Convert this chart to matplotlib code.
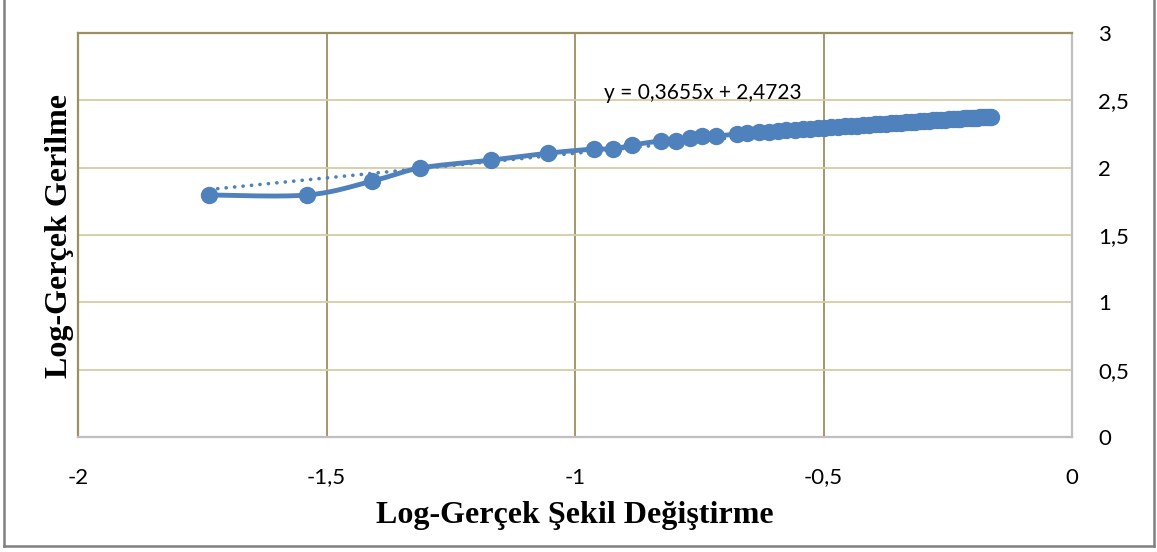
import numpy as np
import matplotlib.pyplot as plt
from matplotlib.lines import Line2D

# log true strain / log true stress
log_strain = [-1.736, -1.539, -1.408, -1.312, -1.169, -1.054, -0.962, -0.924,
              -0.885, -0.827, -0.797, -0.769, -0.745, -0.716, -0.674, -0.654,
              -0.630, -0.610, -0.592, -0.575, -0.558, -0.542, -0.527, -0.512,
              -0.498, -0.484, -0.470, -0.457, -0.444, -0.432, -0.420, -0.408,
              -0.397, -0.386, -0.375, -0.364, -0.354, -0.344, -0.334, -0.324,
              -0.315, -0.306, -0.297, -0.288, -0.279, -0.271, -0.263, -0.255,
              -0.247, -0.239, -0.232, -0.225, -0.218, -0.211, -0.204, -0.198,
              -0.192, -0.186, -0.180, -0.174, -0.168, -0.162]
log_stress = [1.797, 1.797, 1.900, 1.997, 2.056, 2.108, 2.138, 2.138,
              2.168, 2.198, 2.198, 2.218, 2.232, 2.235, 2.250, 2.255,
              2.262, 2.267, 2.272, 2.276, 2.281, 2.285, 2.289, 2.293,
              2.296, 2.300, 2.303, 2.307, 2.310, 2.313, 2.316, 2.319,
              2.322, 2.325, 2.327, 2.330, 2.333, 2.335, 2.338, 2.340,
              2.342, 2.345, 2.347, 2.349, 2.351, 2.353, 2.355, 2.357,
              2.359, 2.361, 2.363, 2.364, 2.366, 2.368, 2.369, 2.371,
              2.372, 2.374, 2.375, 2.376, 2.377, 2.378]

slope = 0.3655
intercept = 2.4723

x_ticks = [-2, -1.5, -1, -0.5, 0]
x_tick_labels = ['-2', '-1,5', '-1', '-0,5', '0']
y_ticks = [0, 0.5, 1, 1.5, 2, 2.5, 3]
y_tick_labels = ['0', '0,5', '1', '1,5', '2', '2,5', '3']

blue = '#4F81BD'


def smooth_curve(x, y, n=20, tension=0.5):
    # cardinal spline through the points, for a smoothed connecting line
    x = np.asarray(x, float)
    y = np.asarray(y, float)
    px = np.concatenate([[x[0]], x, [x[-1]]])
    py = np.concatenate([[y[0]], y, [y[-1]]])
    xs, ys = [], []
    t = np.linspace(0, 1, n)
    h00 = 2 * t**3 - 3 * t**2 + 1
    h10 = t**3 - 2 * t**2 + t
    h01 = -2 * t**3 + 3 * t**2
    h11 = t**3 - t**2
    for i in range(1, len(px) - 2):
        mx0 = tension * (px[i + 1] - px[i - 1])
        my0 = tension * (py[i + 1] - py[i - 1])
        mx1 = tension * (px[i + 2] - px[i])
        my1 = tension * (py[i + 2] - py[i])
        xs.append(h00 * px[i] + h10 * mx0 + h01 * px[i + 1] + h11 * mx1)
        ys.append(h00 * py[i] + h10 * my0 + h01 * py[i + 1] + h11 * my1)
    return np.concatenate(xs), np.concatenate(ys)


fig = plt.figure(figsize=(11.57, 5.52), dpi=100)
ax = fig.add_axes([78 / 1157, 115 / 552, 994 / 1157, 404 / 552])

olive = '#9C9060'
tan = '#D6CDA4'
grey = '#BFBFBF'

for xv in x_ticks[1:-1]:
    ax.axvline(xv, color=olive, lw=1.3, zorder=0)
for yv in y_ticks[1:-1]:
    ax.axhline(yv, color=tan, lw=1.3, zorder=0)

sx, sy = smooth_curve(log_strain, log_stress)
ax.plot(sx, sy, color=blue, lw=3.5, solid_capstyle='round', zorder=3)
ax.plot(log_strain, log_stress, 'o', color=blue, ms=11.5, zorder=4)

trend_x = np.array([log_strain[0], log_strain[-1]])
ax.plot(trend_x, slope * trend_x + intercept, color=blue, lw=2.6,
        linestyle=(0, (0.05, 2.3)), dash_capstyle='round', zorder=2)

ax.text(-0.742, 2.555, 'y = 0,3655x + 2,4723', fontsize=15, family='Lato',
        ha='center', va='center', zorder=5)

ax.set_xlim(-2, 0)
ax.set_ylim(0, 3)
ax.set_xticks(x_ticks)
ax.set_xticklabels(x_tick_labels, family='Lato', fontsize=16)
ax.set_yticks(y_ticks)
ax.set_yticklabels(y_tick_labels, family='Lato', fontsize=16)
ax.yaxis.tick_right()
ax.tick_params(axis='both', length=0)
ax.tick_params(axis='x', pad=22)
ax.tick_params(axis='y', pad=19)

ax.spines['left'].set_color(olive)
ax.spines['top'].set_color(olive)
ax.spines['right'].set_color(grey)
ax.spines['bottom'].set_color(grey)
for s in ax.spines.values():
    s.set_linewidth(1.6)

fig.text(575 / 1157, 1 - 515 / 552, 'Log-Gerçek Şekil Değiştirme',
         family='Liberation Serif', weight='bold', fontsize=23,
         ha='center', va='center')
fig.text(60 / 1157, 1 - 236 / 552, 'Log-Gerçek Gerilme',
         family='Liberation Serif', weight='bold', fontsize=23,
         ha='center', va='center', rotation=90)

# outer chart frame
frame = dict(color='#808080', lw=1.8, transform=fig.transFigure)
fig.add_artist(Line2D([4 / 1157, 4 / 1157], [6 / 552, 1], **frame))
fig.add_artist(Line2D([1154 / 1157, 1154 / 1157], [6 / 552, 1], **frame))
fig.add_artist(Line2D([4 / 1157, 1154 / 1157], [6 / 552, 6 / 552], **frame))

fig.savefig('out.png', dpi=100)
